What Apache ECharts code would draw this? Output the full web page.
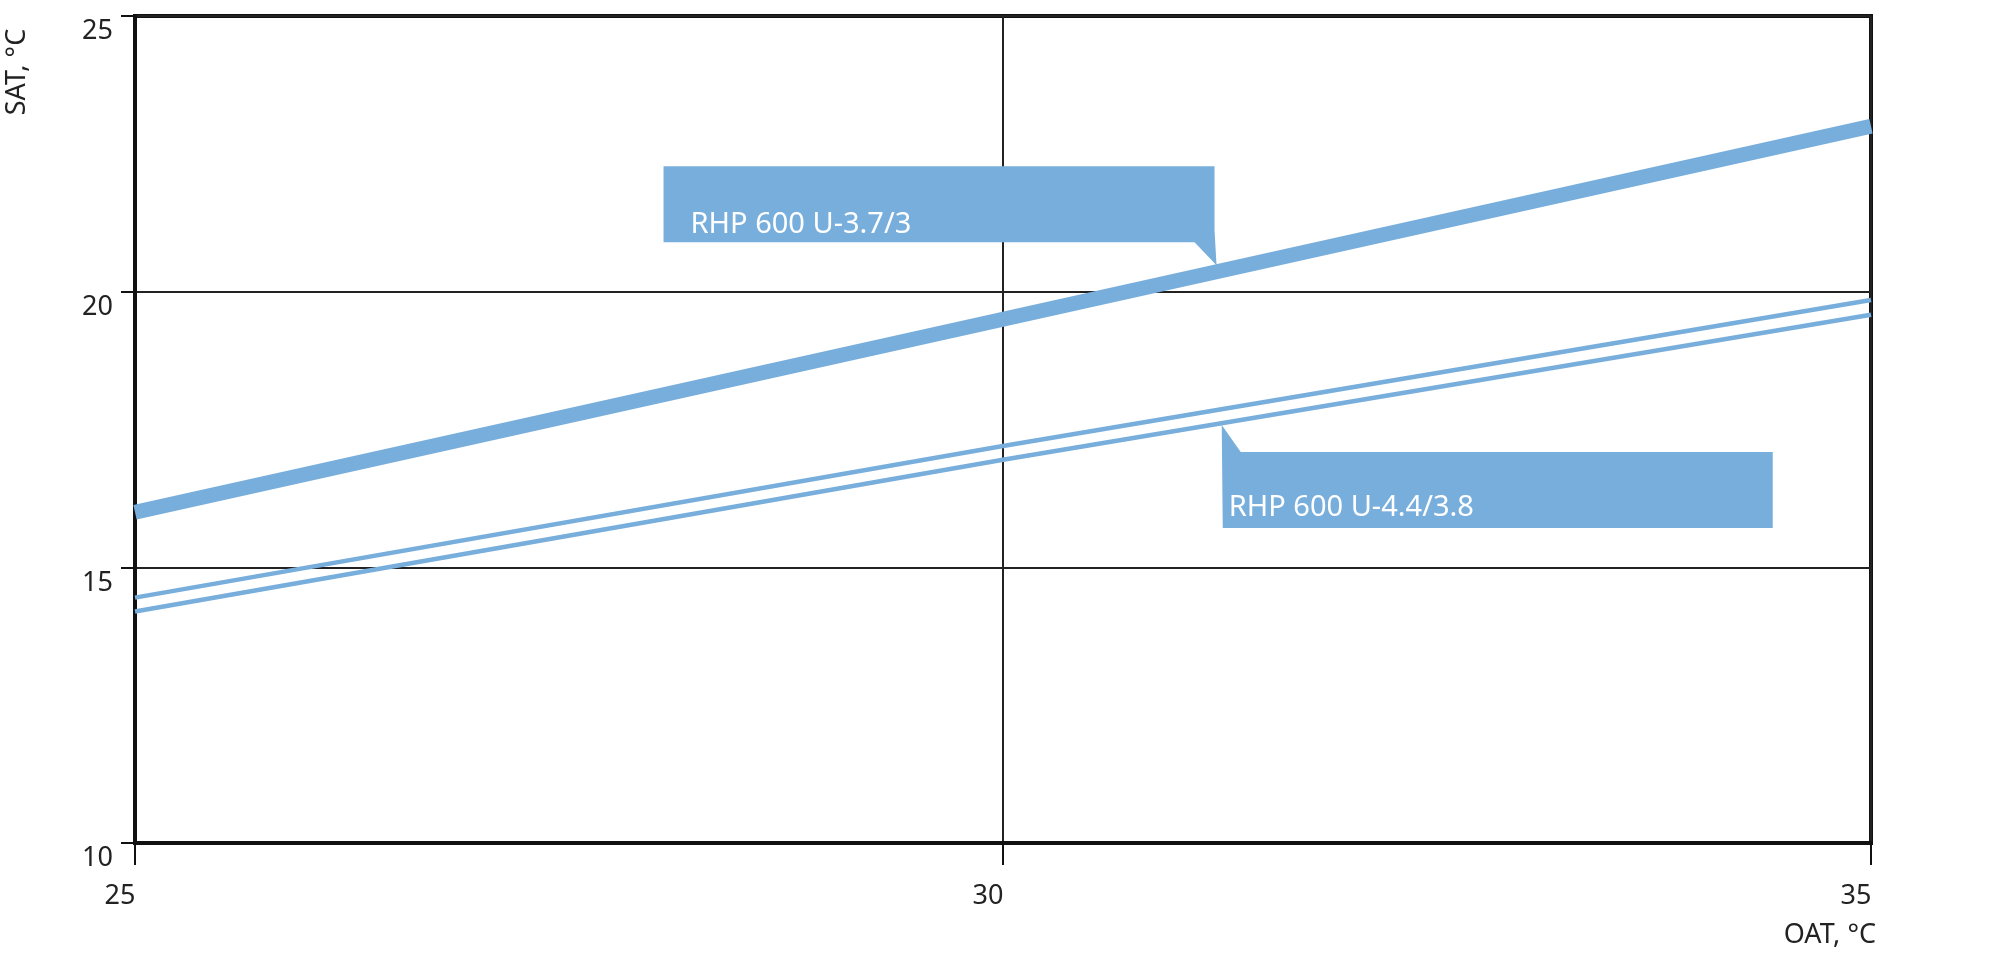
<!DOCTYPE html>
<html>
<head>
<meta charset="utf-8">
<script src="https://cdn.jsdelivr.net/npm/echarts@6/dist/echarts.min.js"></script>
<style>
html,body{margin:0;padding:0;background:#fff;}
#chart{width:2000px;height:957px;}
</style>
</head>
<body>
<div id="chart"></div>
<script>
// ---- data ----
var oat = [25, 30, 35];
var satRHP37 = [16.0, 19.5, 23.0];
var satRHP44Upper = [14.45, 17.2, 19.85];
var satRHP44Lower = [14.2, 16.95, 19.58];
var xTicks = [25, 30, 35];
var yTicks = [10, 15, 20, 25];
var calloutLabels = ['RHP 600 U-3.7/3', 'RHP 600 U-4.4/3.8'];
var calloutAnchors = [[31.23, 20.48], [31.26, 17.58]];

function pairs(xs, ys) { return xs.map(function (x, i) { return [x, ys[i]]; }); }

var BLUE = '#78aedc';
var FONT = '"Noto Sans", "Open Sans", sans-serif';

var chart = echarts.init(document.getElementById('chart'), null, {renderer: 'canvas'});

var option = {
  animation: false,
  backgroundColor: '#fff',
  grid: {
    left: 135, right: 129, top: 16, bottom: 114,
    show: true, borderColor: '#111', borderWidth: 4, backgroundColor: 'transparent'
  },
  xAxis: {
    type: 'value', min: xTicks[0], max: xTicks[xTicks.length - 1], interval: 5,
    axisLine: {show: true, lineStyle: {color: '#111', width: 4}},
    axisTick: {show: true, length: 22, lineStyle: {color: '#111', width: 2}},
    splitLine: {show: true, lineStyle: {color: '#222', width: 2}},
    axisLabel: {
      fontFamily: FONT, fontSize: 27, color: '#222', margin: 40,
      padding: [0, 30, 0, 0],
      formatter: function (v) { return String(v); }
    }
  },
  yAxis: {
    type: 'value', min: yTicks[0], max: yTicks[yTicks.length - 1], interval: 5,
    axisLine: {show: true, lineStyle: {color: '#111', width: 4}},
    axisTick: {show: true, length: 14, lineStyle: {color: '#111', width: 2}},
    splitLine: {show: true, lineStyle: {color: '#222', width: 2}},
    axisLabel: {
      fontFamily: FONT, fontSize: 27, color: '#222', margin: 22,
      verticalAlign: 'top', lineHeight: 31
    }
  },
  series: [
    {
      name: 'RHP 600 U-3.7/3', type: 'line', data: pairs(oat, satRHP37),
      symbol: 'none', lineStyle: {color: BLUE, width: 15, cap: 'butt'}, z: 3
    },
    {
      name: 'RHP 600 U-4.4/3.8 (upper)', type: 'line', data: pairs(oat, satRHP44Upper),
      symbol: 'none', lineStyle: {color: BLUE, width: 4.5, cap: 'butt'}, z: 3
    },
    {
      name: 'RHP 600 U-4.4/3.8 (lower)', type: 'line', data: pairs(oat, satRHP44Lower),
      symbol: 'none', lineStyle: {color: BLUE, width: 4.5, cap: 'butt'}, z: 3
    },
    {
      name: 'callouts', type: 'custom', z: 5,
      data: calloutAnchors.map(function (a, i) { return [a[0], a[1], i]; }),
      renderItem: function (params, api) {
        var tip = api.coord([api.value(0), api.value(1)]);
        var idx = api.value(2);
        var w = 551, h = 76, pts, tx, ty;
        if (idx === 0) {
          var right = tip[0] - 2, bottom = tip[1] - 23, left = right - w, top = bottom - h;
          pts = [[left, top], [right, top], [right, bottom - 12], [tip[0], tip[1]], [right - 20, bottom], [left, bottom]];
          tx = left + 27; ty = bottom - 17;
        } else {
          var left2 = tip[0], top2 = tip[1] + 27, right2 = left2 + w, bottom2 = top2 + h;
          pts = [[tip[0], tip[1]], [left2 + 19, top2], [right2, top2], [right2, bottom2], [left2 + 1, bottom2]];
          tx = left2 + 7; ty = bottom2 - 20;
        }
        return {
          type: 'group',
          children: [
            {type: 'polygon', shape: {points: pts}, style: {fill: BLUE}},
            {type: 'text', style: {
              text: calloutLabels[idx], x: tx, y: ty,
              fill: '#fff', font: '29px ' + FONT,
              textAlign: 'left', textVerticalAlign: 'middle', verticalAlign: 'middle'
            }}
          ]
        };
      }
    }
  ],
  graphic: [
    {type: 'text', x: 17, y: 72, rotation: Math.PI / 2,
     style: {text: 'SAT, °C', font: '27px ' + FONT, fill: '#222', textAlign: 'center', verticalAlign: 'middle'}},
    {type: 'text', x: 1876, y: 935,
     style: {text: 'OAT, °C', font: '27px ' + FONT, fill: '#222', textAlign: 'right', verticalAlign: 'middle'}}
  ]
};
chart.setOption(option);
</script>
</body>
</html>
